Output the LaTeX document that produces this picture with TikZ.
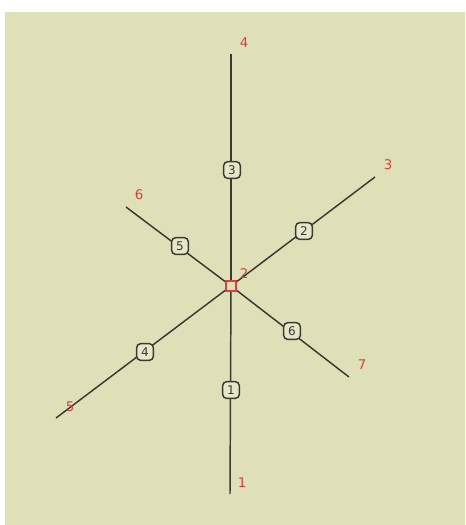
\documentclass[tikz,border=0pt]{standalone}
\usepackage{fontspec}
\setmainfont{DejaVu Sans}
\begin{document}
\begin{tikzpicture}[x=0.75pt,y=-0.75pt,
  edgeline/.style={draw=linec,line width=1.1pt},
  ptlabel/.style={text=labc,font=\fontsize{10}{10}\selectfont,inner sep=0pt},
  elabel/.style={draw=linec,fill=boxc,rounded corners=3pt,line width=1.1pt,minimum width=12.5pt,minimum height=12.5pt,inner sep=0pt,font=\fontsize{9}{9}\selectfont,text=linec},
  endpt/.style={inner sep=0pt,minimum size=0pt}]
\definecolor{bgc}{HTML}{DFDFB8}
\definecolor{linec}{HTML}{3A3A32}
\definecolor{labc}{HTML}{D84040}
\definecolor{boxc}{HTML}{E6E6C8}
\useasboundingbox (0,0) rectangle (465,525);
\fill[white] (0,0) rectangle (465,525);
\fill[bgc] (5,12) rectangle (465,525);
% points
\coordinate (p1) at (230,494);
\coordinate (p3) at (375,177);
\coordinate (p4) at (231,54);
\coordinate (p5) at (56,418);
\coordinate (p6) at (126,207);
\coordinate (p7) at (349,377);
\node[endpt] (c) at (231,286) {};
% edges
\draw[edgeline] (c) -- (p1);
\draw[edgeline] (c) -- (p3);
\draw[edgeline] (c) -- (p4);
\draw[edgeline] (c) -- (p5);
\draw[edgeline] (c) -- (p6);
\draw[edgeline] (c) -- (p7);
% center square
\node[draw=labc,fill=bgc,line width=0.8pt,minimum size=7.5pt,inner sep=0pt] (sq) at (231,286) {};
% point labels
\node[ptlabel] (l1) at (242,483) {1};
\node[ptlabel] (l2) at (244,274) {2};
\node[ptlabel] (l3) at (388,165) {3};
\node[ptlabel] (l4) at (244,43) {4};
\node[ptlabel] (l5) at (70,407) {5};
\node[ptlabel] (l6) at (139,195) {6};
\node[ptlabel] (l7) at (362,365) {7};
% edge labels
\node[elabel] (e1) at (231,390) {1};
\node[elabel] (e2) at (304,231) {2};
\node[elabel] (e3) at (232,170) {3};
\node[elabel] (e4) at (145,352) {4};
\node[elabel] (e5) at (180,246) {5};
\node[elabel] (e6) at (292,331) {6};
\end{tikzpicture}
\end{document}
